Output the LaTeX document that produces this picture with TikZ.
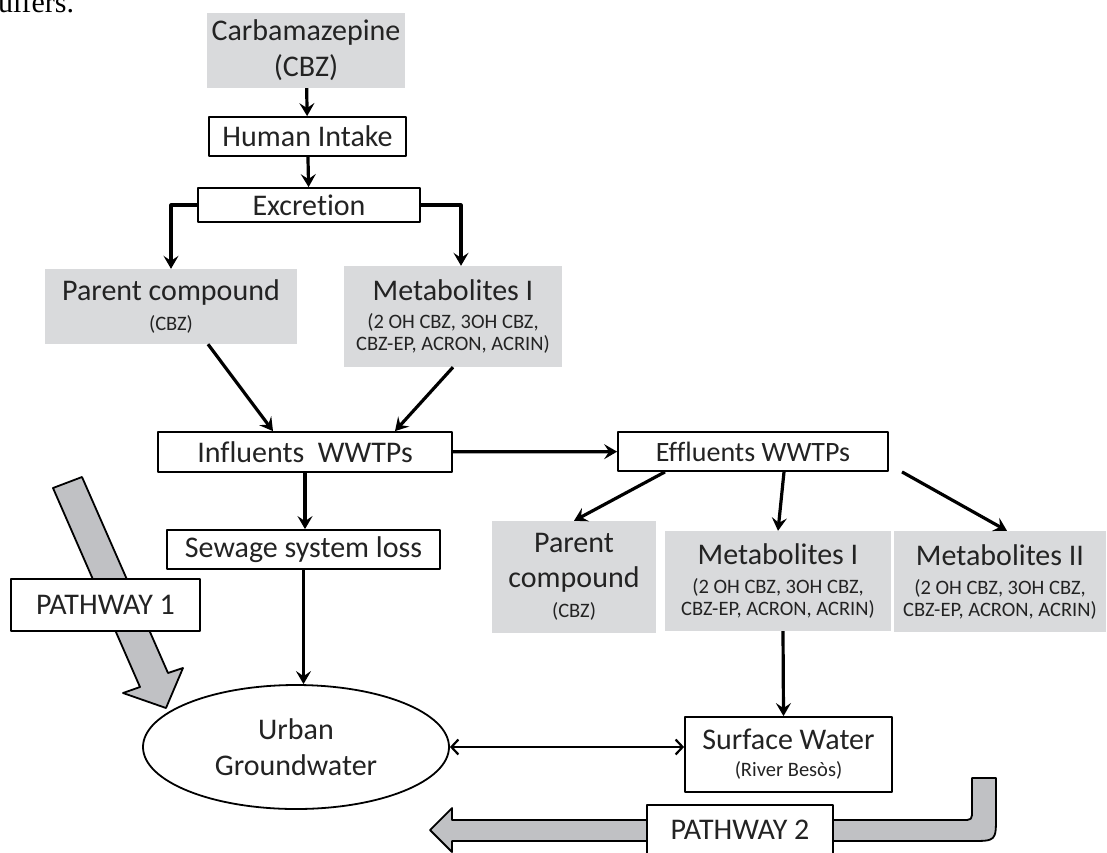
\documentclass[tikz,border=0pt]{standalone}
\usepackage{fontspec}
\setmainfont{Carlito}[Ligatures={NoCommon}]
\newfontfamily\pagefont{Liberation Serif}
\usetikzlibrary{arrows.meta, positioning, shapes.geometric}
\definecolor{BoxGrey}{RGB}{217,218,220}
\definecolor{PathGrey}{RGB}{192,193,196}
\definecolor{InkGrey}{RGB}{35,35,35}
\newcommand{\bigtxt}{\fontsize{30}{36}\selectfont}
\newcommand{\smalltxt}{\fontsize{20.5}{22}\selectfont}

\begin{document}
\begin{tikzpicture}[x=1pt, y=-1pt, line join=round,
    plainbox/.style={draw, line width=1.8pt, fill=white, text=InkGrey, font=\bigtxt, inner sep=0pt, align=center},
    greybox/.style={fill=BoxGrey, text=InkGrey, font=\bigtxt, inner sep=0pt, align=center},
    flow/.style={-{Stealth[length=13pt,width=15pt,inset=5pt]}, line width=3.2pt},
    exchange/.style={{Straight Barb[length=7pt,width=15pt]}-{Straight Barb[length=7pt,width=15pt]}, line width=2.2pt}]
        \useasboundingbox (0,0) rectangle (1107,852);

        % cut-off line of the page above the figure
        \node [font=\pagefont\fontsize{30}{36}\selectfont, anchor=base west, inner sep=0pt] (capt) at (-2,12) {uifers.};

        % intake chain
        \node [greybox, minimum width=198pt, minimum height=75pt] (carb) at (306,50.5) {Carbamazepine\\(CBZ)};
        \node [plainbox, minimum width=197pt, minimum height=39pt] (intake) at (307.5,136.5) {Human Intake};
        \node [plainbox, minimum width=222pt, minimum height=34pt] (excr) at (309,205) {Excretion};
        \node [greybox, minimum width=252pt, minimum height=75pt] (par1) at (171,306.5) {Parent compound\\[-6pt]{\smalltxt (CBZ)}};
        \node [greybox, minimum width=218pt, minimum height=101pt] (met1) at (453,316.5) {Metabolites I\\[-8pt]{\smalltxt (2 OH CBZ, 3OH CBZ,}\\[-14pt]{\smalltxt CBZ-EP, ACRON, ACRIN)}};

        % treatment plants
        \node [plainbox, minimum width=294pt, minimum height=40pt] (infl) at (305,452) {Influents\ \ WWTPs};
        \node [plainbox, minimum width=270pt, minimum height=39pt, font=\fontsize{28}{34}\selectfont] (effl) at (753,451.5) {Effluents WWTPs};
        \node [plainbox, minimum width=273pt, minimum height=39pt] (sewage) at (303.5,549.5) {Sewage system loss};
        \node [greybox, minimum width=164pt, minimum height=112pt] (par2) at (574,577) {Parent\\[-1pt]compound\\[-6pt]{\smalltxt (CBZ)}};
        \node [greybox, minimum width=226pt, minimum height=100pt] (met2) at (778,581) {Metabolites I\\[-7pt]{\smalltxt (2 OH CBZ, 3OH CBZ,}\\[-14pt]{\smalltxt CBZ-EP, ACRON, ACRIN)}};
        \node [greybox, minimum width=212pt, minimum height=101pt] (met3) at (1000,581.5) {Metabolites II\\[-7pt]{\smalltxt (2 OH CBZ, 3OH CBZ,}\\[-14pt]{\smalltxt CBZ-EP, ACRON, ACRIN)}};

        % pathway 1
        \draw [line width=1.8pt, fill=PathGrey] (53,488) -- (82,477) -- (168,673) -- (183,668) -- (166,708) -- (123,693) -- (140,687) -- cycle;
        \node [plainbox, minimum width=189pt, minimum height=52pt] (path1) at (105.5,605) {PATHWAY 1};

        % pathway 2
        \draw [line width=1.8pt, fill=PathGrey] (430,830) -- (452,808) -- (452,820) -- (962,820) .. controls (972,820) .. (972,810) -- (972,778) -- (996,778) -- (996,816) .. controls (996,841) .. (971,841) -- (452,841) -- (452,852) -- cycle;
        \node [plainbox, minimum width=186pt, minimum height=50pt] (path2) at (740,830) {PATHWAY 2};

        % receiving waters
        \node [plainbox, ellipse, minimum width=306pt, minimum height=124pt] (gw) at (296,747) {Urban\\Groundwater};
        \node [plainbox, minimum width=207pt, minimum height=75pt] (surf) at (788.5,754.5) {Surface Water\\[-9pt]{\smalltxt (River Besòs)}};

        % connectors
        \draw [flow] (carb) -- (intake);
        \draw [flow] (intake) -- (excr);
        \draw [flow] (excr.west) -| (par1.north);
        \draw [flow] (excr.east) -| ([xshift=8pt]met1.north);
        \draw [flow] ([xshift=37pt]par1.south) -- ([xshift=-32pt]infl.north);
        \draw [flow] (met1.south) -- ([xshift=90pt]infl.north);
        \draw [flow] (infl) -- (effl);
        \draw [flow] (infl.south) -- (infl.south |- sewage.north);
        \draw [flow] (sewage) -- (sewage.south |- gw.north);
        \draw [flow] ([xshift=-88pt]effl.south) -- (par2.north);
        \draw [flow] ([xshift=31pt]effl.south) -- (met2.north);
        \draw [flow] ([xshift=149pt]effl.south) -- ([xshift=7pt]met3.north);
        \draw [flow] ([xshift=5pt]met2.south) -- ([xshift=-5pt]surf.north);
        \draw [exchange] (gw.east) -- (gw.east -| surf.west);
    \end{tikzpicture}
\end{document}
